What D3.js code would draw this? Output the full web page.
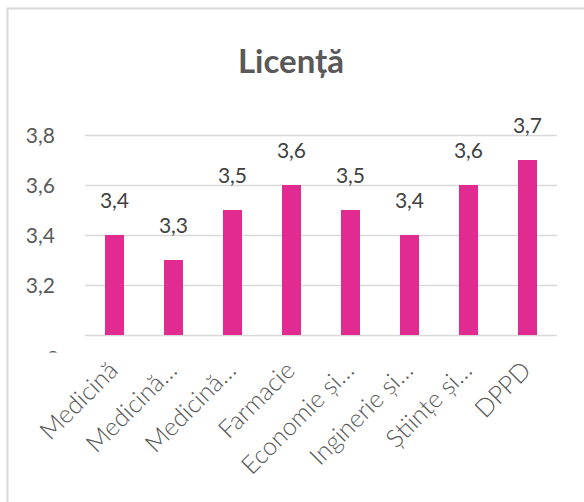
<!DOCTYPE html>
<html>
<head>
<meta charset="utf-8">
<script src="https://cdn.jsdelivr.net/npm/d3@7"></script>
<style>
  body { margin: 0; background: #fff; }
  svg { display: block; font-family: Lato, "Open Sans", sans-serif; }
</style>
</head>
<body>
<svg id="chart" width="584" height="502"></svg>
<script>
const title = "Licență"
const categories = ["Medicină", "Medicină…", "Medicină…", "Farmacie", "Economie și…", "Inginerie și…", "Științe și…", "DPPD"]
const values = [3.4, 3.3, 3.5, 3.6, 3.5, 3.4, 3.6, 3.7]
const yTicks = [3.0, 3.2, 3.4, 3.6, 3.8]

const plot = {left: 85, right: 557, top: 135, bottom: 335}

const svg = d3.select("#chart")

// chart frame (only top and left edges are inside the picture)
svg.append("path")
    .attr("d", "M7.5,502 V8.5 H584")
    .attr("fill", "none")
    .attr("stroke", "#d9d9d9")
    .attr("stroke-width", 2)

svg.append("text")
    .attr("x", 291)
    .attr("y", 73)
    .attr("text-anchor", "middle")
    .attr("font-size", 33)
    .attr("font-weight", "bold")
    .attr("fill", "#595959")
    .text(title)

let x = d3.scaleBand()
    .domain(d3.range(categories.length))
    .range([plot.left, plot.right])
    .paddingInner(0.678)
    .paddingOuter(0.339)

let y = d3.scaleLinear()
    .domain([3.0, 3.8])
    .range([plot.bottom, plot.top])

const fmt = d => d === 3 ? "3" : d.toFixed(1).replace(".", ",")

// the lowest tick label is pushed down and cut off, only its top shows
svg.append("defs").append("clipPath")
    .attr("id", "yclip")
  .append("rect")
    .attr("x", -100).attr("y", -100).attr("width", 200).attr("height", 117)

let yAxis = svg.append("g")
    .attr("transform", `translate(${plot.left},0)`)
    .call(d3.axisLeft(y).tickValues(yTicks).tickFormat(fmt)
      .tickSize(-(plot.right - plot.left)).tickPadding(30))
    .attr("font-family", null)
yAxis.select(".domain").remove()
yAxis.selectAll(".tick line")
    .attr("stroke", "#d9d9d9")
    .attr("stroke-width", 1.3)
yAxis.selectAll(".tick text")
    .attr("font-size", 21)
    .attr("fill", "#595959")
    .attr("dy", d => d === 3 ? "1.45em" : "0.35em")
    .attr("dx", d => d === 3 ? 4 : 0)
yAxis.selectAll(".tick")
    .filter(d => d === 3)
    .select("text")
    .attr("clip-path", "url(#yclip)")

// bars
svg.append("g")
  .selectAll("rect")
  .data(values)
  .join("rect")
    .attr("x", (d, i) => x(i))
    .attr("y", d => y(d))
    .attr("width", x.bandwidth())
    .attr("height", d => y(3.0) - y(d))
    .attr("fill", "#e22b90")

// value labels
svg.append("g")
  .selectAll("text")
  .data(values)
  .join("text")
    .attr("x", (d, i) => x(i) + x.bandwidth() / 2)
    .attr("y", d => y(d) - 27)
    .attr("text-anchor", "middle")
    .attr("font-size", 21)
    .attr("fill", "#404040")
    .text(fmt)

// category labels
let xAxis = svg.append("g")
    .attr("transform", `translate(0,${plot.bottom})`)
    .call(d3.axisBottom(x).tickFormat(i => categories[i]).tickSize(0).tickPadding(0))
    .attr("font-family", null)
xAxis.select(".domain").remove()
xAxis.selectAll(".tick text")
    .attr("font-size", 25)
    .attr("font-weight", 300)
    .attr("fill", "#595959")
    .attr("text-anchor", "end")
    .attr("dy", null)
    .attr("transform", "translate(5,37) rotate(-45)")
</script>
</body>
</html>
